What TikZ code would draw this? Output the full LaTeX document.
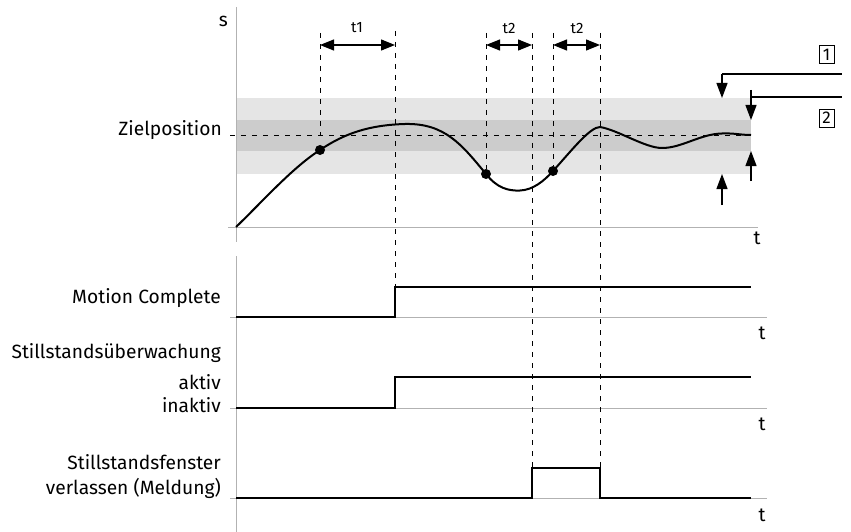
\documentclass[tikz,border=0pt]{standalone}
\usepackage{fontspec}
\setmainfont{Fira Sans}
\usetikzlibrary{arrows.meta, positioning}

\begin{document}
\begin{tikzpicture}[
    x=1pt, y=-1pt,
    axis/.style={draw=black!30, line width=1pt},
    guide/.style={dash pattern=on 5pt off 6pt, line width=0.9pt},
    curve/.style={line width=2pt, line join=round},
    signal/.style={line width=2pt},
    dot/.style={circle, fill=black, inner sep=0pt, minimum size=10pt},
    dim/.style={{Triangle[length=14pt,width=11pt]}-{Triangle[length=14pt,width=11pt]}, line width=1.2pt},
    tolarrow/.style={-{Triangle[length=15pt,width=11pt]}, line width=1.2pt},
    lbl/.style={font=\fontsize{19.2}{25}\selectfont, align=right, anchor=east, inner sep=0pt},
    tlbl/.style={font=\fontsize{19.2}{22}\selectfont, inner sep=0pt},
    dimlbl/.style={font=\fontsize{15}{16}\selectfont, inner sep=0pt},
    numbox/.style={draw, line width=0.8pt, minimum width=15pt, minimum height=18pt, inner sep=0pt, font=\fontsize{17}{18}\selectfont}
]
\useasboundingbox (0,0) rectangle (851,532);

% tolerance bands
\fill[black!10] (236,98) rectangle (751,174);
\fill[black!20] (236,120) rectangle (751,151);

% axes
\draw[axis] (236,7) -- (236,242);
\draw[axis] (236,256) -- (236,532);
\draw[axis] (228,227) -- (758,227);
\draw[axis] (230,317) -- (767,317);
\draw[axis] (230,408) -- (767,408);
\draw[axis] (230,498) -- (767,498);

\node[tlbl, anchor=east] (s) at (228,21) {s};
\node[tlbl] (t0) at (757,238) {t};
\node[tlbl] (t1ax) at (762,333) {t};
\node[tlbl] (t2ax) at (762,424) {t};
\node[tlbl] (t3ax) at (762,515) {t};

% target position
\coordinate (zl) at (230,135);
\coordinate (zr) at (751,135);
\draw[guide] (zl) -- (zr);
\node[lbl] (ziel) at (222,130) {Zielposition};

% motion curve
\coordinate (c0) at (236,227);
\node[dot] (p1) at (320,150) {};
\coordinate (c1) at (405,124);
\node[dot] (p2) at (486,174) {};
\coordinate (c2) at (520,190.5);
\node[dot] (p3) at (553,171) {};
\coordinate (c3) at (600,127);
\coordinate (c4) at (662,148);
\coordinate (c5) at (722,133.5);
\draw[curve] (c0) .. controls (262,202) and (292,168) .. (p1.center)
  .. controls (345,133) and (370,125) .. (c1)
  .. controls (445,123) and (462,145) .. (p2.center)
  .. controls (497,188) and (508,191) .. (c2)
  .. controls (533,190) and (544,181) .. (p3.center)
  .. controls (572,150) and (590,127) .. (c3)
  .. controls (618,130) and (645,148) .. (c4)
  .. controls (682,148) and (700,134) .. (c5)
  .. controls (735,133) and (740,135) .. (zr);

% time marks
\draw[guide] (320,33) -- (320,135);
\draw[guide] (395,31) -- (395,287);
\draw[guide] (486,33) -- (p2);
\draw[guide] (532,33) -- (532,468);
\draw[guide] (553,33) -- (p3);
\draw[guide] (600,33) -- (600,468);

\coordinate (d1a) at (320,45);
\coordinate (d1b) at (395,45);
\coordinate (d2a) at (486,45);
\coordinate (d2b) at (532,45);
\coordinate (d3a) at (553,45);
\coordinate (d3b) at (600,45);
\draw[dim] (d1a) -- (d1b);
\draw[dim] (d2a) -- (d2b);
\draw[dim] (d3a) -- (d3b);
\node[dimlbl] (lt1) at (357,28) {t1};
\node[dimlbl] (lt2) at (509,28) {t2};
\node[dimlbl] (lt3) at (577,28) {t2};

% tolerance windows
\node[numbox] (n1) at (826.5,54.5) {1};
\node[numbox] (n2) at (826.5,118) {2};
\coordinate (a1) at (722,74);
\coordinate (a1e) at (842,74);
\coordinate (a2) at (751,97);
\coordinate (a2e) at (842,97);
\draw[line width=1.2pt] (a1) -- (a1e);
\draw[line width=1.2pt] (a2) -- (a2e);
\draw[tolarrow] (a1) -- (722,98);
\draw[tolarrow] (722,205) -- (722,174);
\draw[tolarrow] (751,90) -- (751,120);
\draw[tolarrow] (751,181) -- (751,151);

% signals
\node[lbl] (mc) at (221,298) {Motion Complete};
\draw[signal] (236,317) -- (395,317) -- (395,287) -- (751,287);

\node[lbl] (su) at (221,353) {Stillstandsüberwachung};
\node[lbl] (akt) at (221,382) {aktiv};
\node[lbl] (inakt) at (221,405) {inaktiv};
\draw[signal] (236,408) -- (395,408) -- (395,377) -- (751,377);

\node[lbl] (sf) at (221,477) {Stillstandsfenster\\verlassen (Meldung)};
\draw[signal] (236,498) -- (532,498) -- (532,468) -- (600,468) -- (600,498) -- (751,498);

\end{tikzpicture}
\end{document}
